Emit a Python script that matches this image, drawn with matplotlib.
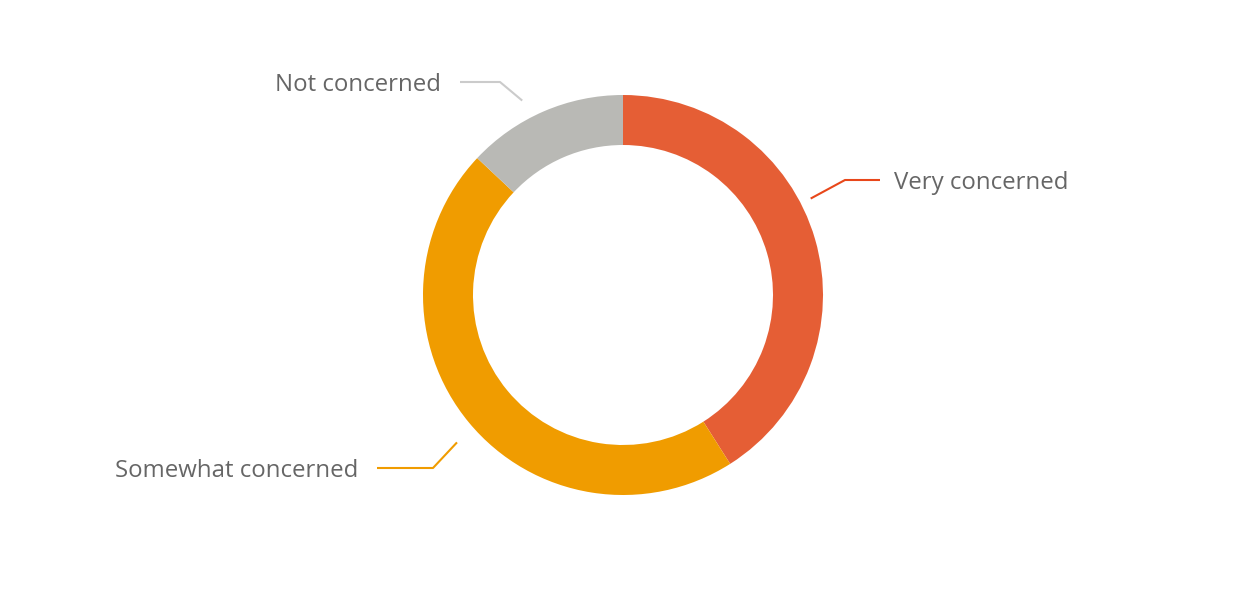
import numpy as np
import matplotlib
matplotlib.use("Agg")
import matplotlib.pyplot as plt

labels = ["Very concerned", "Somewhat concerned", "Not concerned"]
values = [41, 46, 13]
colors = ["#E55E35", "#F09C00", "#B9B9B5"]
line_colors = ["#E8471A", "#F09C00", "#CBCBCB"]

plt.rcParams['font.family'] = ['Open Sans', 'DejaVu Sans']

W, H = 1244, 590
fig = plt.figure(figsize=(W / 100, H / 100), dpi=100)
ax = fig.add_axes([0, 0, 1, 1])
ax.set_xlim(0, W)
ax.set_ylim(0, H)
ax.axis('off')

cx, cy, R = 623, 295, 200
wedges, _ = ax.pie(values, colors=colors, startangle=90, counterclock=False,
                   radius=R, center=(cx, cy), wedgeprops=dict(width=50, linewidth=0))
ax.set_xlim(0, W)
ax.set_ylim(0, H)
ax.set_aspect('equal')

# label layout: end of the leader line (pixels, y up), angle nudge, start radius, horizontal run
label_end = [(880, 410), (377, 122), (460, 508)]
nudge = [11, 2, 4]
start_r = [211, 222, 219]
run = [35, 56, 40]

for w, lab, lc, (ex, ey), nd, sr, rn in zip(wedges, labels, line_colors, label_end,
                                            nudge, start_r, run):
    mid = np.deg2rad((w.theta1 + w.theta2) / 2 + nd)
    sx, sy = cx + sr * np.cos(mid), cy + sr * np.sin(mid)
    right = ex > cx
    kx = ex - rn if right else ex + rn
    ax.plot([sx, kx, ex], [sy, ey, ey], color=lc, lw=1.5, solid_capstyle='butt')
    ax.text(ex + 14 if right else ex - 19, ey - 3, lab, ha='left' if right else 'right',
            va='center', fontsize=17.3, color='#666666')

fig.savefig('out.png', dpi=100)
